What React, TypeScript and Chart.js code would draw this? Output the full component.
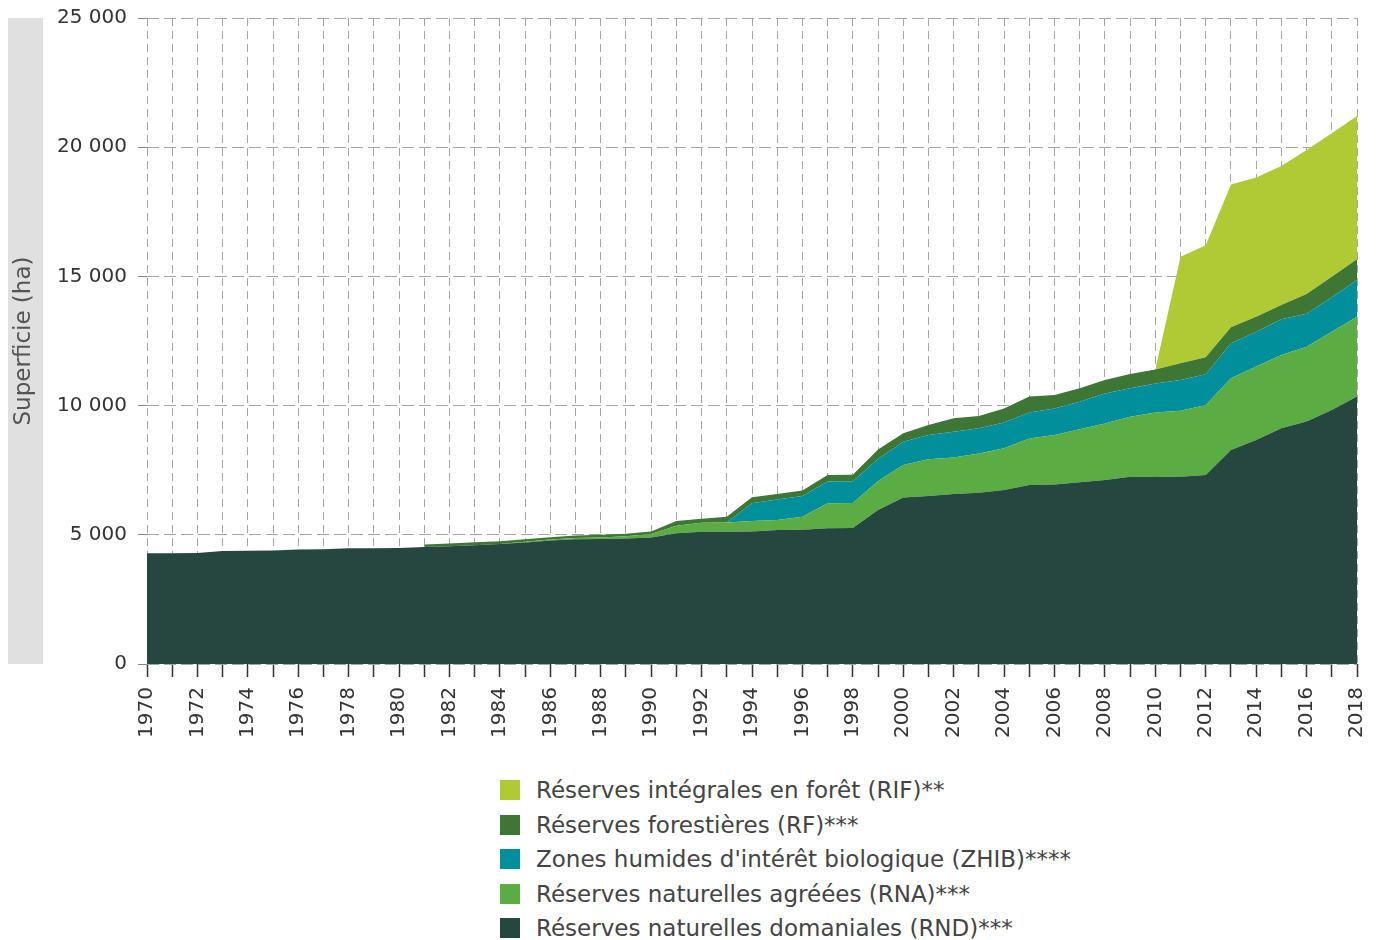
import React, { useEffect, useRef } from "react";
import { Chart, registerables } from "chart.js";

Chart.register(...registerables);

const years: string[] = [];
for (let y = 1970; y <= 2018; y++) years.push(String(y));

// Réserves naturelles domaniales (RND)
const rnd = [
  4290, 4290, 4300, 4370, 4380, 4390, 4430, 4440, 4480, 4480,
  4490, 4530, 4560, 4600, 4640, 4700, 4780, 4830, 4840, 4860,
  4900, 5060, 5120, 5120, 5130, 5190, 5200, 5250, 5260, 5960,
  6440, 6500, 6580, 6630, 6730, 6930, 6950, 7030, 7120, 7250,
  7250, 7250, 7310, 8280, 8670, 9120, 9380, 9830, 10350,
];
// Réserves naturelles agréées (RNA)
const rna = [
  null, null, null, null, null, null, null, null, null, null,
  null, null, null, null, 0, 30, 40, 50, 60, 80,
  130, 290, 350, 360, 400, 380, 500, 970, 970, 1120,
  1260, 1420, 1410, 1520, 1620, 1800, 1910, 2050, 2190, 2320,
  2480, 2550, 2710, 2780, 2840, 2840, 2900, 3030, 3090,
];
// Zones humides d'intérêt biologique (ZHIB)
const zhib = [
  null, null, null, null, null, null, null, null, null, null,
  null, null, null, null, null, null, null, null, null, null,
  null, null, null, 0, 690, 800, 800, 840, 840, 850,
  900, 940, 1000, 970, 1000, 1000, 1030, 1070, 1160, 1100,
  1130, 1190, 1190, 1350, 1350, 1380, 1270, 1330, 1420,
];
// Réserves forestières (RF)
const rf = [
  null, null, null, null, null, null, null, null, null, null,
  null, 90, 100, 110, 110, 100, 90, 90, 100, 100,
  100, 180, 150, 220, 230, 210, 210, 250, 250, 370,
  330, 390, 520, 480, 540, 620, 520, 520, 520, 550,
  540, 650, 660, 620, 580, 550, 770, 800, 800,
];
// Réserves intégrales en forêt (RIF)
const rif = [
  null, null, null, null, null, null, null, null, null, null,
  null, null, null, null, null, null, null, null, null, null,
  null, null, null, null, null, null, null, null, null, null,
  null, null, null, null, null, null, null, null, null, null,
  0, 4120, 4340, 5530, 5390, 5380, 5570, 5550, 5550,
];

const seriesLabels = [
  "Réserves naturelles domaniales (RND)***",
  "Réserves naturelles agréées (RNA)***",
  "Zones humides d'intérêt biologique (ZHIB)****",
  "Réserves forestières (RF)***",
  "Réserves intégrales en forêt (RIF)**",
];
const seriesColors = ["#26473f", "#5aac43", "#008f9b", "#3e7635", "#b0ca35"];
const seriesData = [rnd, rna, zhib, rf, rif];

const yTicks = [0, 5000, 10000, 15000, 20000, 25000];
const yTitle = "Superficie (ha)";
const FONT = "'DejaVu Sans', Verdana, sans-serif";

const fmt = (v: number) => String(v).replace(/\B(?=(\d{3})+(?!\d))/g, " ");

const titleBoxPlugin = {
  id: "titleBox",
  beforeDraw(chart: any) {
    const { ctx, chartArea } = chart;
    ctx.save();
    ctx.fillStyle = "#e0e0e0";
    ctx.fillRect(8, chartArea.top, 35, chartArea.bottom - chartArea.top);
    ctx.translate(24, (chartArea.top + chartArea.bottom) / 2);
    ctx.rotate(-Math.PI / 2);
    ctx.fillStyle = "#555";
    ctx.font = `23px ${FONT}`;
    ctx.textAlign = "center";
    ctx.textBaseline = "middle";
    ctx.fillText(yTitle, 0, 0);
    ctx.restore();
  },
};

export default function App() {
  const ref = useRef<HTMLCanvasElement>(null);

  useEffect(() => {
    if (!ref.current) return;
    const chart = new Chart(ref.current, {
      type: "line",
      data: {
        labels: years,
        datasets: seriesData.map((d, i) => ({
          label: seriesLabels[i],
          data: d as any,
          backgroundColor: seriesColors[i],
          borderColor: "transparent",
          borderWidth: 0,
          pointRadius: 0,
          pointHitRadius: 0,
          fill: i === 0 ? "origin" : "stack",
          tension: 0,
        })),
      },
      options: {
        animation: false,
        responsive: false,
        events: [],
        layout: { padding: { top: 18, right: 19, left: 0, bottom: 0 } },
        plugins: {
          legend: { display: false },
          tooltip: { enabled: false },
        },
        scales: {
          x: {
            type: "category",
            offset: false,
            stacked: true,
            border: { display: false, dash: [8, 5] },
            grid: {
              color: "#a6a6a6",
              lineWidth: 1,
              drawTicks: true,
              tickLength: 13,
              tickColor: "#333",
              tickWidth: 1.5,
              borderDash: [8, 5],
              tickBorderDash: [],
            } as any,
            ticks: {
              autoSkip: false,
              maxRotation: 90,
              minRotation: 90,
              padding: 10,
              color: "#333",
              font: { family: FONT, size: 20 },
              callback: (_v: any, i: number) => (i % 2 === 0 ? years[i] : ""),
            },
            afterFit: (s: any) => {
              s.height = 96;
              s.paddingLeft = 0;
              s.paddingRight = 0;
            },
          } as any,
          y: {
            stacked: true,
            min: 0,
            max: 25000,
            border: { display: false, dash: [12, 5] },
            grid: {
              color: "#a6a6a6",
              lineWidth: 1,
              tickLength: 9,
              tickColor: "#888",
              borderDash: [12, 5],
              tickBorderDash: [],
            } as any,
            afterBuildTicks: (s: any) => {
              s.ticks = yTicks.map((v) => ({ value: v }));
            },
            ticks: {
              padding: 11,
              color: "#333",
              font: { family: FONT, size: 20 },
              callback: (v: any) => fmt(Number(v)),
            },
            afterFit: (s: any) => {
              s.width = 147;
              s.paddingTop = 0;
              s.paddingBottom = 0;
            },
          } as any,
        },
      },
      plugins: [titleBoxPlugin],
    });
    return () => chart.destroy();
  }, []);

  const legendOrder = [4, 3, 2, 1, 0];

  return (
    <div style={{ position: "absolute", left: 0, top: 0, width: 1376, height: 940, background: "#fff" }}>
      <canvas ref={ref} width={1376} height={760} style={{ display: "block", width: 1376, height: 760 }} />
      <div style={{ position: "absolute", left: 500, top: 773, fontFamily: FONT, fontSize: 23, color: "#444" }}>
        {legendOrder.map((i) => (
          <div key={i} style={{ display: "flex", alignItems: "center", height: 34.5, whiteSpace: "nowrap" }}>
            <span style={{ display: "inline-block", width: 20, height: 20, background: seriesColors[i], marginRight: 16, flex: "none" }} />
            <span>{seriesLabels[i]}</span>
          </div>
        ))}
      </div>
    </div>
  );
}
